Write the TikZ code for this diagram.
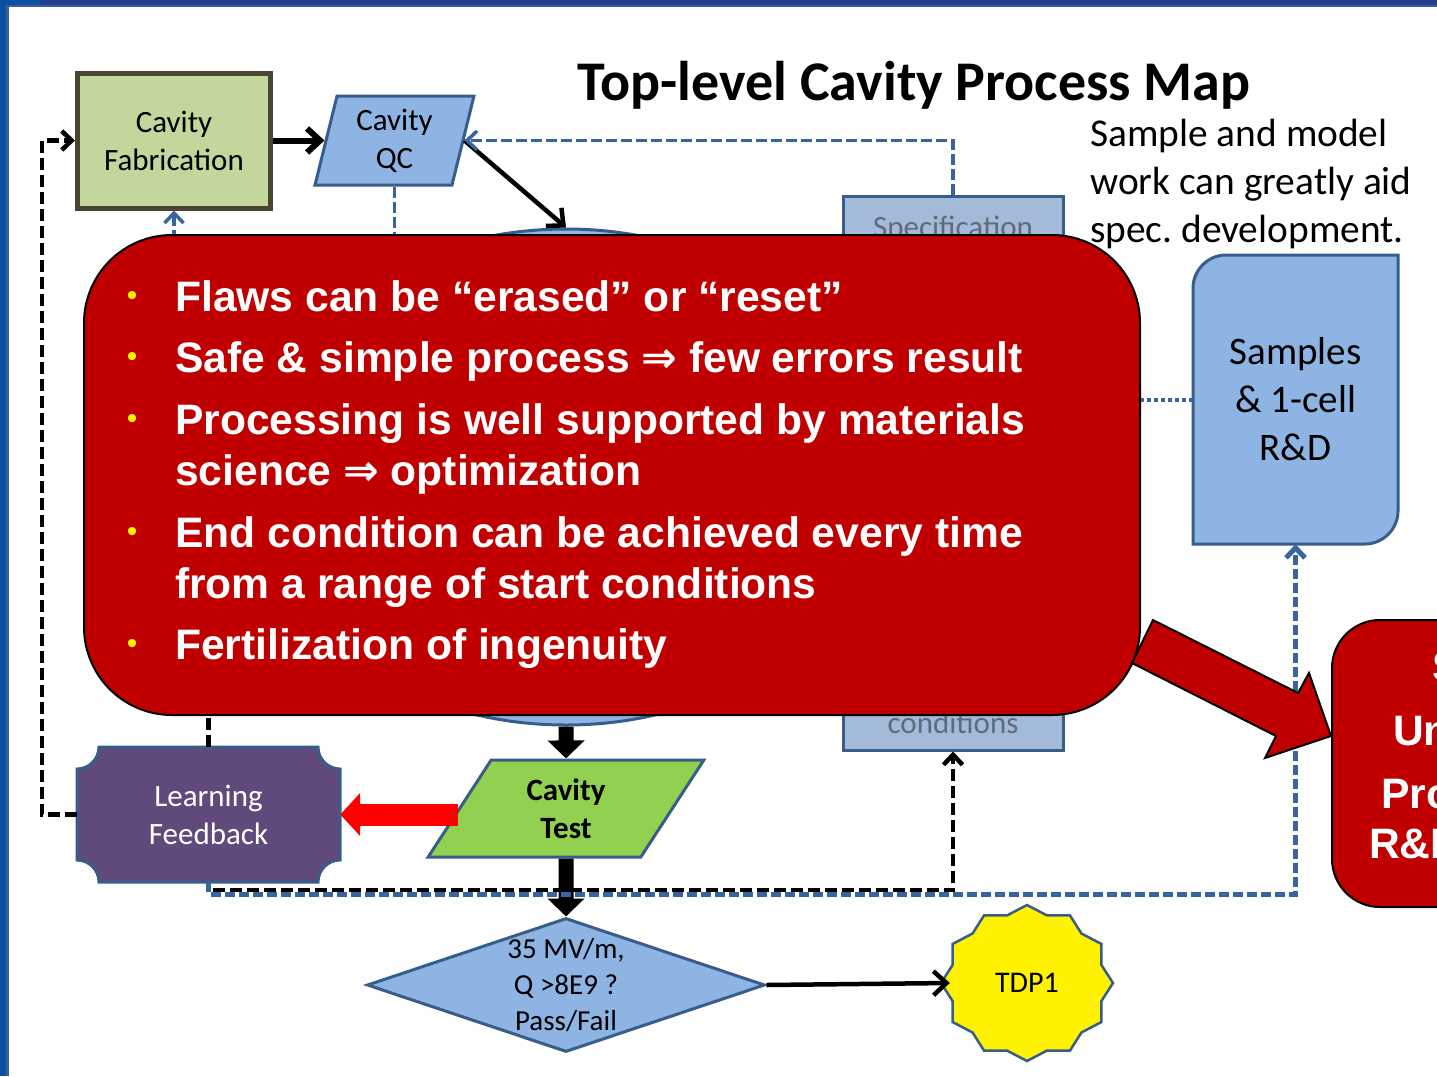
\documentclass[tikz,border=0pt]{standalone}
\usepackage{fontspec}
\setmainfont{Carlito}
\newfontfamily\arialfont{Liberation Sans}
\newfontfamily\dejavufont{DejaVu Sans}
\usetikzlibrary{arrows.meta,shapes.geometric}
\definecolor{bluefill}{HTML}{8EB4E3}
\definecolor{bluedraw}{HTML}{385D8A}
\definecolor{dashblue}{HTML}{3A64A0}
\definecolor{specfill}{HTML}{A3BBD9}
\definecolor{spectext}{HTML}{5F6B7B}
\definecolor{fabfill}{HTML}{C3D69B}
\definecolor{fabdraw}{HTML}{4A4530}
\definecolor{lfpurple}{HTML}{604A7B}
\definecolor{testgreen}{HTML}{92D050}
\definecolor{boxred}{HTML}{C00000}
\definecolor{framenavy}{HTML}{253D8F}
\definecolor{frameblue}{HTML}{0A4FA0}
\definecolor{framestrip}{HTML}{3C5F96}
\frenchspacing
\begin{document}
\begin{tikzpicture}[x=1pt,y=-1pt,
  lbl/.style={font=\fontsize{31}{38}\selectfont, align=center},
  bluebox/.style={draw=bluedraw, line width=3pt, fill=bluefill},
  blackdash/.style={draw=black, line width=4.5pt, dash pattern=on 12pt off 5pt},
  bluedashA/.style={draw=dashblue, line width=3.5pt, dash pattern=on 11pt off 4pt},
  bluedashB/.style={draw=dashblue, line width=5pt, dash pattern=on 10pt off 4pt},
  bluedot/.style={draw=dashblue, line width=4pt, dash pattern=on 4pt off 3pt},
  barbbig/.style={-{Straight Barb[length=13pt,width=24pt]}},
  barbsmall/.style={-{Straight Barb[length=10pt,width=19pt]}},
  bigarrow/.style={draw=black, line width=15pt, -{Triangle[length=18pt,width=36pt]}},
  redarrow/.style={draw=red, line width=22pt, -{Triangle[length=20pt,width=42pt]}},
  redbox/.style={draw=black, line width=2pt, fill=boxred},
  redtxt/.style={anchor=base west, inner sep=0pt, text=white, font=\arialfont\bfseries\fontsize{42.6}{50}\selectfont},
  bulletmark/.style={inner sep=0pt, text=yellow, font=\arialfont\fontsize{30}{30}\selectfont},
  plaintxt/.style={anchor=base west, inner sep=0pt, font=\fontsize{39.4}{48}\selectfont}]
\useasboundingbox (0,0) rectangle (1437,1076);
\clip (0,0) rectangle (1437,1076);
% frame
\fill[white] (0,0) rectangle (1437,1076);
\fill[framenavy] (0,0) rectangle (1437,4.5);
\fill[framestrip] (0,4.5) rectangle (1437,7);
\fill[frameblue] (0,0) rectangle (6,1076);
\fill[framestrip] (6,4.5) rectangle (8.5,1076);
\fill[frameblue] (0,0) rectangle (40,4.5);

% title and note
\node[anchor=base, inner sep=0pt, font=\bfseries\fontsize{56}{66}\selectfont] (title) at (914,100) {Top-level Cavity Process Map};
\node[plaintxt] (note1) at (1090,146) {Sample and model};
\node[plaintxt] (note2) at (1090,194) {work can greatly aid};
\node[plaintxt] (note3) at (1090,242) {spec. development.};

% shapes
\node[draw=bluedraw, line width=3pt, fill=specfill, minimum width=220pt, minimum height=554pt] (spec) at (953,473) {};
\node[anchor=base, inner sep=0pt, text=spectext, font=\fontsize{31}{38}\selectfont] (spectop) at (953,237) {Specification};
\node[anchor=base, inner sep=0pt, text=spectext, font=\fontsize{31}{38}\selectfont] (specbot) at (953,733) {conditions};

\node[ellipse, bluebox, minimum width=630pt, minimum height=496pt] (proc) at (566,477) {};

\node[draw=fabdraw, fill=fabfill, line width=5pt, minimum width=193pt, minimum height=135pt, lbl] (fab) at (174,140.5) {Cavity\\Fabrication};

\node[trapezium, trapezium left angle=77, trapezium right angle=103, trapezium stretches=true, minimum width=159pt, minimum height=89pt, inner sep=0pt, bluebox, lbl] (qc) at (394.5,140.5) {Cavity\\QC};

\draw[bluebox] (1193,544) -- (1193,288) .. controls (1193,270) and (1208,255) .. (1226,255) -- (1398,255) -- (1398,511) .. controls (1398,529) and (1383,544) .. (1365,544) -- cycle;
\node[minimum width=205pt, minimum height=289pt, lbl, font=\fontsize{39}{48}\selectfont] (samp) at (1295.5,399.5) {Samples\\\&~1-cell\\R\&D};

\draw[draw=bluedraw, line width=3pt, fill=lfpurple] (99,747) -- (318,747) .. controls (318,759) and (328,769) .. (340,769) -- (340,860) .. controls (328,860) and (318,870) .. (318,882) -- (99,882) .. controls (99,870) and (89,860) .. (77,860) -- (77,769) .. controls (89,769) and (99,759) .. (99,747) -- cycle;
\node[minimum width=263pt, minimum height=135pt, lbl, text=white] (lf) at (208.5,814.5) {Learning\\Feedback};

\node[trapezium, trapezium left angle=61, trapezium right angle=119, trapezium stretches=true, minimum width=276pt, minimum height=97pt, inner sep=0pt, bluebox, fill=testgreen, lbl, font=\bfseries\fontsize{31}{38}\selectfont] (test) at (566,808.5) {Cavity\\Test};

\node[diamond, bluebox, minimum width=398pt, minimum height=134pt, inner sep=0pt] (dia) at (566,985) {};
\node[align=center, font=\fontsize{29}{36}\selectfont] (diatext) at (566,985) {35 MV/m,\\Q >8E9 ?\\Pass/Fail};

\draw[bluebox, fill=yellow, line width=2.5pt] plot[samples at={0,1,...,23}, variable=\k] ({1027+ifthenelse(mod(\k,2)==0,86,77)*cos(90+15*\k)}, {983-ifthenelse(mod(\k,2)==0,78,70)*sin(90+15*\k)}) -- cycle;
\node[ellipse, minimum width=172pt, minimum height=156pt, inner sep=0pt, font=\fontsize{30}{36}\selectfont] (tdp) at (1027,983) {TDP1};

% connectors
\draw[line width=6pt, barbbig] (fab.east) -- (qc.west);
\draw[line width=4.5pt, barbbig] (qc.east) -- (proc.north);
\draw[bluedashA, barbsmall] (spec.north) |- (qc.east);
\draw[bluedashA] (qc.south) -- ++(0,80);
\draw[bluedashA, barbsmall] (fab.south) ++(0,60) -- (fab.south);
\draw[bluedot] (samp.west) -- ++(-150,0);
\draw[blackdash, barbsmall] (lf.west) -- ++(-35,0) |- (fab.west);
\draw[blackdash] (lf.north) -- ++(0,-60);
\draw[bigarrow] (proc.south) -- (test.north);
\draw[bigarrow] (test.south) -- (dia.north);
\draw[redarrow] (test.west |- lf.east) -- (lf.east);
\draw[bluedashB, barbsmall] (lf.south) -- ++(0,12) -| (samp.south);
\draw[blackdash, barbsmall] (lf.south) ++(4,8) -| (spec.south);
\draw[line width=4.5pt, barbbig] (dia.east) -- ([xshift=9pt]tdp.west);

% big red box
\node[redbox, rounded corners=88pt, minimum width=1056pt, minimum height=480pt] (flaws) at (612,475) {};
\node[bulletmark] (b1) at (132,298) {•};
\node[bulletmark] (b2) at (132,359) {•};
\node[bulletmark] (b3) at (132,421) {•};
\node[bulletmark] (b4) at (132,534) {•};
\node[bulletmark] (b5) at (132,646) {•};
\node[redtxt] (t1) at (175,311) {Flaws can be “erased” or “reset”};
\node[redtxt] (t2) at (175,372) {Safe \& simple process {\dejavufont\bfseries ⇒} few errors result};
\node[redtxt] (t3) at (175,434) {Processing is well supported by materials};
\node[redtxt] (t4) at (175,485) {science {\dejavufont\bfseries ⇒} optimization};
\node[redtxt] (t5) at (175,547) {End condition can be achieved every time};
\node[redtxt] (t6) at (175,598) {from a range of start conditions};
\node[redtxt] (t7) at (175,659) {Fertilization of ingenuity};

% right red box
\node[redbox, rounded corners=48pt, minimum width=270pt, minimum height=287pt] (rbox) at (1467,763.5) {};
\node[redtxt] (r1) at (1432,681) {S};
\node[redtxt] (r2) at (1393,745) {Un};
\node[redtxt] (r3) at (1381,808) {Pro};
\node[redtxt] (r4) at (1369,858) {R\&D};

% block arrow
\draw[redbox, line join=miter] (1153,620) -- (1298,693) -- (1309,673) -- (1331,736) -- (1265,758) -- (1276,736) -- (1132,663) -- cycle;
\end{tikzpicture}
\end{document}
